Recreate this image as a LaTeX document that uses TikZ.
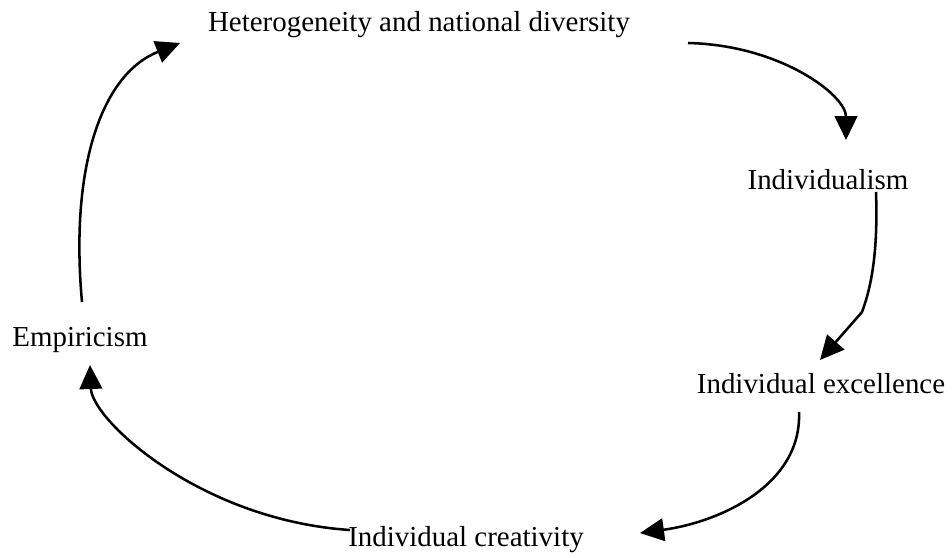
\documentclass[tikz,border=0pt]{standalone}
\usepackage{fontspec}
\setmainfont{Liberation Serif}
\usetikzlibrary{arrows.meta}
\begin{document}
\begin{tikzpicture}[x=0.75pt,y=-0.75pt,
  label/.style={inner sep=0pt,font=\fontsize{21.7}{26}\selectfont},
  flow/.style={line width=1.9pt,-{Triangle[length=18pt,width=17pt]}}]
\useasboundingbox (0,0) rectangle (952,557);
% concepts
\node[label] (het) at (419,25) {Heterogeneity and national diversity};
\node[label] (ind) at (828,180) {Individualism};
\node[label] (exc) at (821,384) {Individual excellence};
\node[label] (cre) at (466,540) {Individual creativity};
\node[label] (emp) at (80,340) {Empiricism};
% connector ends
\coordinate (a1) at (688,43);  \coordinate (b1) at (846,140);
\coordinate (a2) at (876,192); \coordinate (k2) at (862,312); \coordinate (b2) at (820,360);
\coordinate (a3) at (799,412); \coordinate (b3) at (640,533);
\coordinate (a4) at (350,530); \coordinate (b4) at (90,365);
\coordinate (a5) at (82,302);  \coordinate (b5) at (180,43);
% cycle
\draw[flow] (a1) .. controls (780,45) and (846,95) .. (b1);
\draw[flow] (a2) .. controls (878,250) and (872,285) .. (k2) -- (b2);
\draw[flow] (a3) .. controls (802,485) and (720,522) .. (b3);
\draw[flow] (a4) .. controls (200,520) and (92,420) .. (b4);
\draw[flow] (a5) .. controls (70,170) and (100,75) .. (b5);
\end{tikzpicture}
\end{document}
